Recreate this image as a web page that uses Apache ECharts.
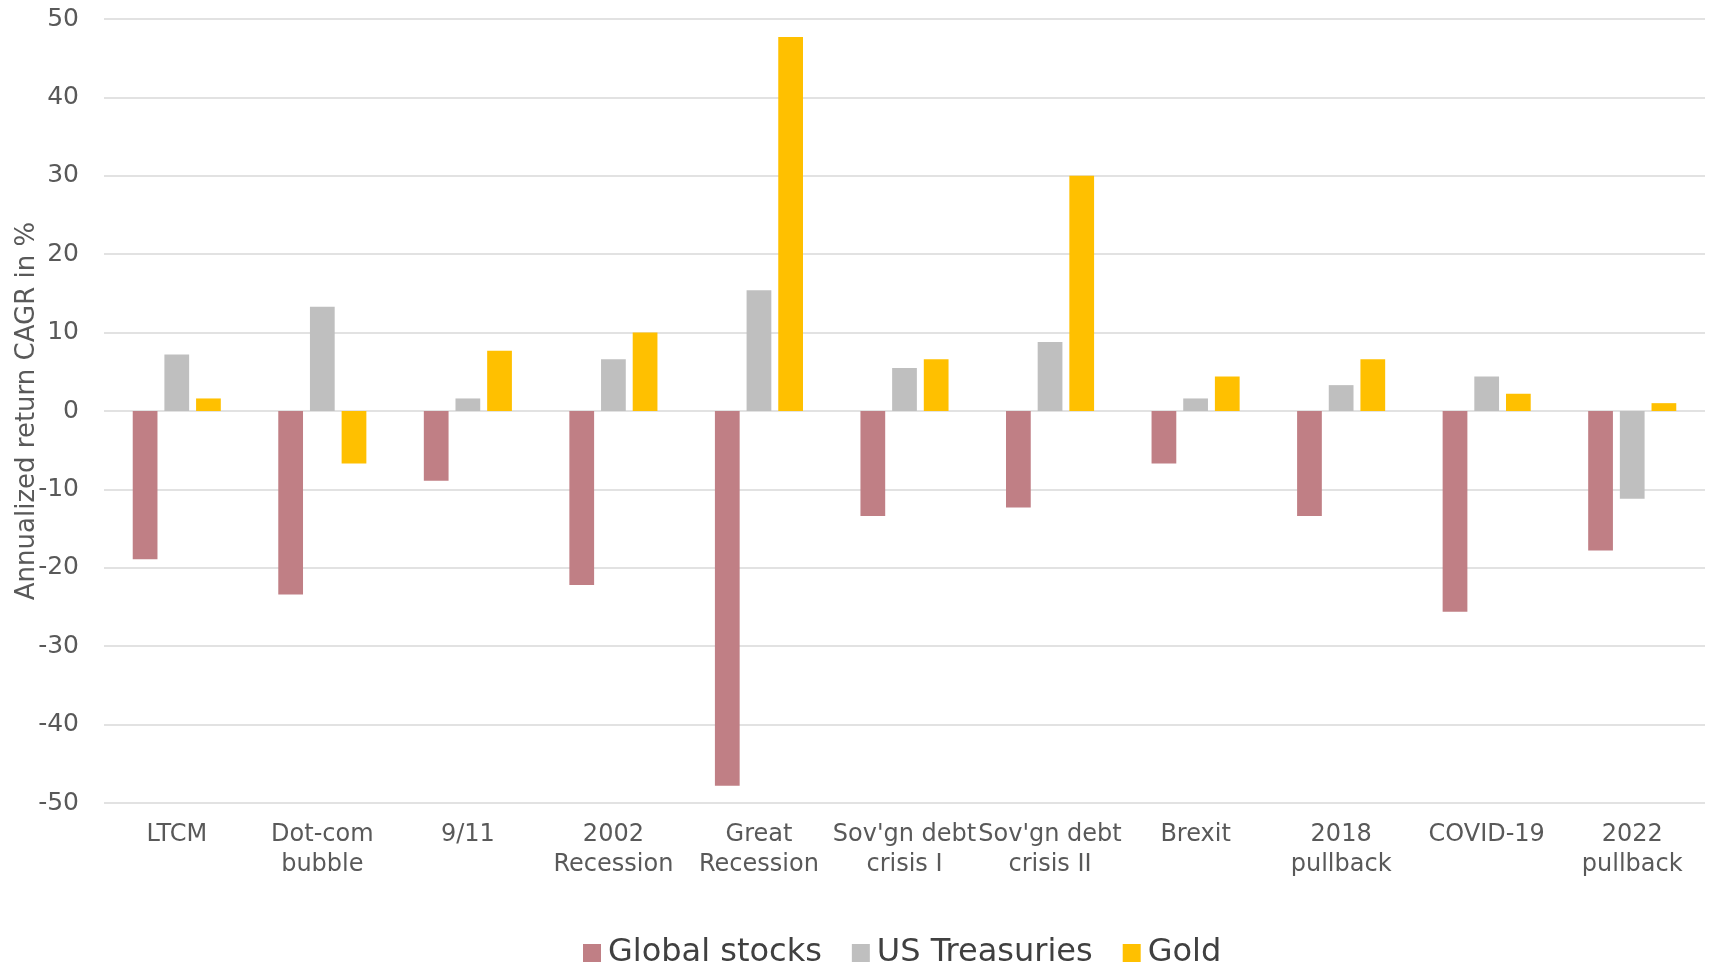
<!DOCTYPE html>
<html>
<head>
<meta charset="utf-8">
<script src="https://cdn.jsdelivr.net/npm/echarts@6/dist/echarts.min.js"></script>
<style>
  html, body { margin: 0; padding: 0; background: #ffffff; }
  #chart { width: 1714px; height: 967px; }
</style>
</head>
<body>
<div id="chart"></div>
<script>
// Crisis episodes along the category axis
const categories = [
  'LTCM', 'Dot-com\nbubble', '9/11', '2002\nRecession', 'Great\nRecession',
  "Sov'gn debt\ncrisis I", "Sov'gn debt\ncrisis II", 'Brexit', '2018\npullback',
  'COVID-19', '2022\npullback'
];

// Annualized return (CAGR, %) per asset class during each episode
const globalStocks = [-18.9, -23.4, -8.9, -22.2, -47.8, -13.4, -12.3, -6.7, -13.4, -25.6, -17.8];
const usTreasuries = [7.2, 13.3, 1.6, 6.6, 15.4, 5.5, 8.8, 1.6, 3.3, 4.4, -11.2];
const gold = [1.6, -6.7, 7.7, 10.0, 47.7, 6.6, 30.0, 4.4, 6.6, 2.2, 1.0];

// Value axis ticks
const yMin = -50;
const yMax = 50;
const yStep = 10;

const seriesNames = ['Global stocks', 'US Treasuries', 'Gold'];
const seriesColors = ['#C07F85', '#BFBFBF', '#FFC000'];
const seriesData = [globalStocks, usTreasuries, gold];

const fontFamily = '"DejaVu Sans", "Noto Sans", sans-serif';

const chart = echarts.init(document.getElementById('chart'), null, { renderer: 'canvas' });

chart.setOption({
  backgroundColor: '#ffffff',
  animation: false,
  textStyle: { fontFamily: fontFamily },
  grid: {
    left: 104, right: 9, top: 19, bottom: 164,
    containLabel: false,
    outerBoundsMode: 'none'
  },
  legend: {
    data: seriesNames,
    top: 932,
    left: 578,
    icon: 'rect',
    itemWidth: 18,
    itemHeight: 18,
    itemGap: 30,
    textStyle: { fontSize: 32, color: '#404040', fontFamily: fontFamily, padding: [0, 0, 0, 2] }
  },
  xAxis: {
    type: 'category',
    data: categories,
    position: 'bottom',
    axisLine: { show: false, onZero: false },
    axisTick: { show: false },
    axisLabel: {
      interval: 0,
      fontSize: 24,
      color: '#595959',
      margin: 17,
      lineHeight: 30,
      fontFamily: fontFamily
    },
    splitLine: { show: false }
  },
  yAxis: {
    type: 'value',
    min: yMin,
    max: yMax,
    interval: yStep,
    name: 'Annualized return CAGR in %',
    nameLocation: 'middle',
    nameGap: 64,
    nameMoveOverlap: false,
    nameTextStyle: { fontSize: 26, color: '#595959', fontFamily: fontFamily },
    axisLine: { show: false },
    axisTick: { show: false },
    axisLabel: { fontSize: 25, color: '#595959', margin: 25, fontFamily: fontFamily },
    splitLine: { lineStyle: { color: '#D9D9D9', width: 1.5 } }
  },
  series: seriesData.map((d, i) => ({
    name: seriesNames[i],
    type: 'bar',
    data: d,
    barWidth: '17%',
    barGap: '28%',
    itemStyle: { color: seriesColors[i] }
  }))
});
</script>
</body>
</html>
